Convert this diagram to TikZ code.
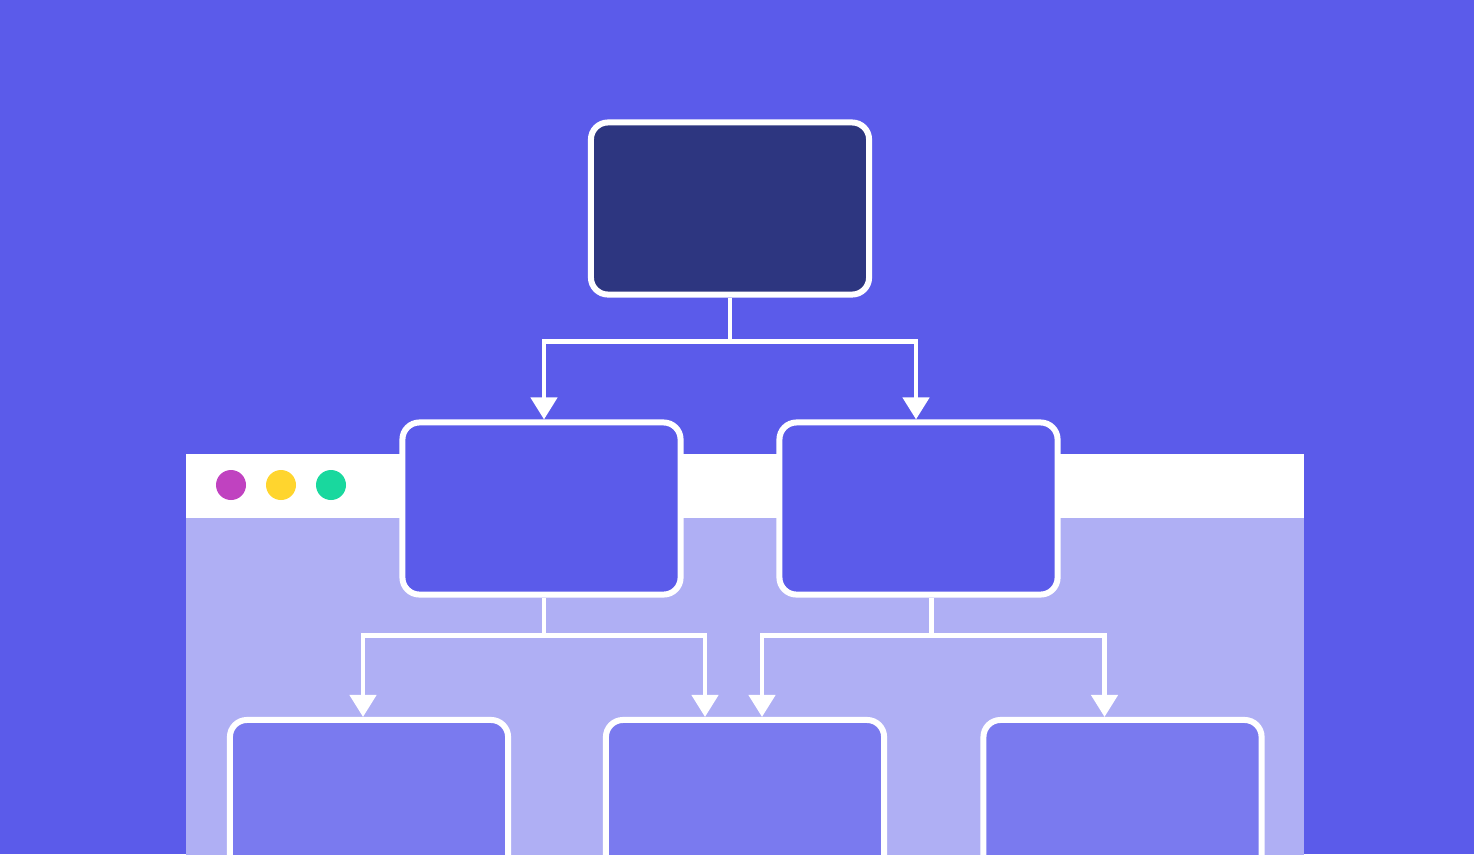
\documentclass[tikz,border=0pt]{standalone}
\usetikzlibrary{arrows.meta,calc}
\definecolor{bgblue}{HTML}{5B5BEA}
\definecolor{darkbox}{HTML}{2D3680}
\definecolor{pagelilac}{HTML}{AFAFF4}
\definecolor{lowbox}{HTML}{7A7AEF}
\definecolor{dotpink}{HTML}{C042C0}
\definecolor{dotyellow}{HTML}{FFD52E}
\definecolor{dotgreen}{HTML}{19D89E}
\begin{document}
\begin{tikzpicture}[x=0.01cm, y=-0.01cm,
   box/.style={draw=white, line width=0.06cm, rounded corners=0.17cm,
      minimum width=2.78cm, minimum height=1.72cm},
   flow/.style={draw=white, line width=0.045cm,
      -{Triangle[length=0.22cm, width=0.26cm]}}]%
   \useasboundingbox (0,0) rectangle (1474,854);
   \clip (0,0) rectangle (1474,854);
   \fill[bgblue] (0,0) rectangle (1474,854);
   % browser window
   \fill[pagelilac] (186,454) rectangle (1304,870);
   \fill[white] (186,454) rectangle (1304,518);
   \fill[dotpink] (231,485) circle (15);
   \fill[dotyellow] (281,485) circle (15);
   \fill[dotgreen] (331,485) circle (15);
   % boxes
   \node[box, fill=darkbox] (top) at (730,208.5) {};
   \node[box, fill=bgblue] (midL) at (541.5,508.5) {};
   \node[box, fill=bgblue] (midR) at (918.5,508.5) {};
   \node[box, fill=lowbox] (botL) at (369,806) {};
   \node[box, fill=lowbox] (botM) at (745,806) {};
   \node[box, fill=lowbox] (botR) at (1122.5,806) {};
   % connectors
   \draw[flow] (top.south) -- ++(0,44) -| ($(midL.north)+(2.5,0)$);
   \draw[flow] (top.south) -- ++(0,44) -| ($(midR.north)+(-2.5,0)$);
   \draw[flow] ($(midL.south)+(2.5,0)$) -- ++(0,38) -| ($(botL.north)+(-6,0)$);
   \draw[flow] ($(midL.south)+(2.5,0)$) -- ++(0,38) -| ($(botM.north)+(-40,0)$);
   \draw[flow] ($(midR.south)+(13,0)$) -- ++(0,38) -| ($(botM.north)+(17,0)$);
   \draw[flow] ($(midR.south)+(13,0)$) -- ++(0,38) -| ($(botR.north)+(-18,0)$);
\end{tikzpicture}
\end{document}
